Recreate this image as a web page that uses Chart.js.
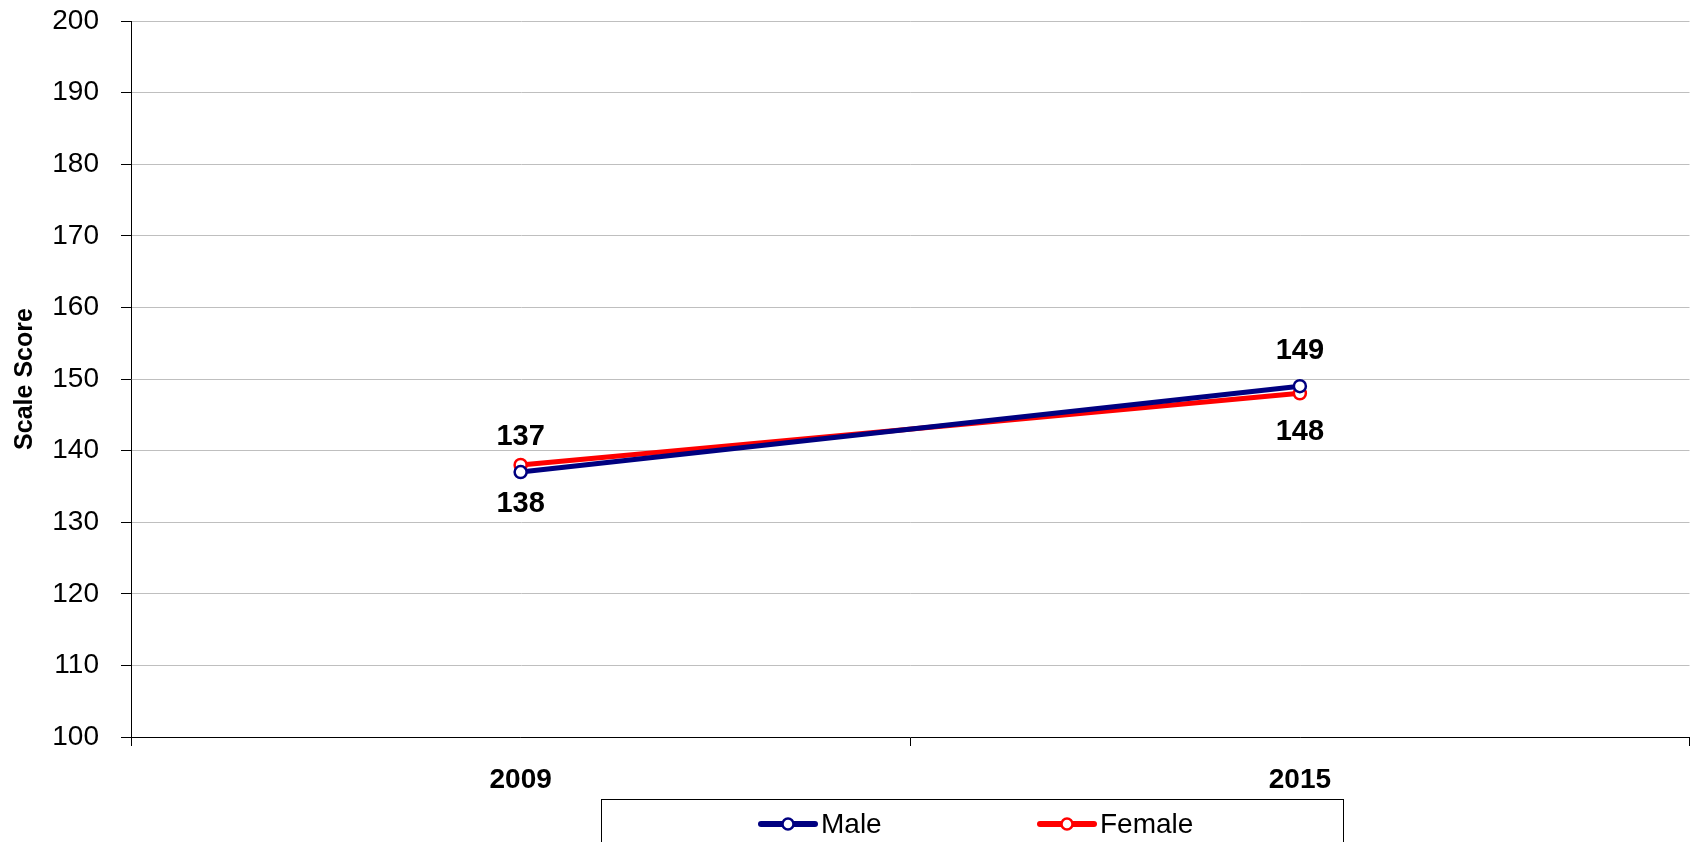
<!DOCTYPE html>
<html>
<head>
<meta charset="utf-8">
<script src="https://cdn.jsdelivr.net/npm/chart.js@4"></script>
<style>
  html, body { margin: 0; padding: 0; background: #fff; }
  #wrap { width: 1698px; height: 842px; }
</style>
</head>
<body>
<div id="wrap"><canvas id="scoreChart" width="1698" height="842"></canvas></div>
<script>
const years = ['2009', '2015'];
const maleScores = [137, 149];
const femaleScores = [138, 148];
const yTicks = [100, 110, 120, 130, 140, 150, 160, 170, 180, 190, 200];

const FONT = "'Liberation Sans', Arial, sans-serif";

// value labels: male above the point, female below
const valueLabels = {
    id: 'valueLabels',
    afterDatasetsDraw(chart) {
        const ctx = chart.ctx;
        ctx.save();
        ctx.font = 'bold 29px ' + FONT;
        ctx.fillStyle = '#000';
        ctx.textAlign = 'center';
        ctx.textBaseline = 'middle';
        chart.data.datasets.forEach((ds, i) => {
            const meta = chart.getDatasetMeta(i);
            meta.data.forEach((pt, j) => {
                const dy = i === 0 ? -35 : 39;
                ctx.fillText(String(ds.data[j]), pt.x, pt.y + dy);
            });
        });
        ctx.restore();
    }
};

// legend in a bordered box under the x axis
const legendBox = {
    id: 'legendBox',
    afterDraw(chart) {
        const ctx = chart.ctx;
        ctx.save();
        ctx.strokeStyle = '#000';
        ctx.lineWidth = 1;
        ctx.strokeRect(601.5, 799.5, 742, 60);
        const items = [
            { x: 761, ds: chart.data.datasets[0] },
            { x: 1040, ds: chart.data.datasets[1] }
        ];
        const y = 824;
        ctx.font = '28px ' + FONT;
        ctx.textBaseline = 'middle';
        ctx.textAlign = 'left';
        items.forEach(it => {
            ctx.strokeStyle = it.ds.borderColor;
            ctx.lineWidth = 6;
            ctx.lineCap = 'round';
            ctx.beginPath();
            ctx.moveTo(it.x, y);
            ctx.lineTo(it.x + 54, y);
            ctx.stroke();
            ctx.beginPath();
            ctx.arc(it.x + 27, y, 5.5, 0, Math.PI * 2);
            ctx.fillStyle = '#fff';
            ctx.fill();
            ctx.lineWidth = 2.5;
            ctx.stroke();
            ctx.fillStyle = '#000';
            ctx.fillText(it.ds.label, it.x + 60, y + 1);
        });
        ctx.restore();
    }
};

new Chart(document.getElementById('scoreChart'), {
    type: 'line',
    data: {
        labels: years,
        datasets: [{
            label: 'Male',
            data: maleScores,
            borderColor: '#000080',
            backgroundColor: '#fff',
            borderWidth: 5,
            pointRadius: 6,
            pointBorderWidth: 2.5,
            pointBackgroundColor: '#fff',
            tension: 0
        }, {
            label: 'Female',
            data: femaleScores,
            borderColor: '#FF0000',
            backgroundColor: '#fff',
            borderWidth: 5,
            pointRadius: 6,
            pointBorderWidth: 2.5,
            pointBackgroundColor: '#fff',
            tension: 0
        }]
    },
    options: {
        responsive: false,
        animation: false,
        layout: { padding: { top: 21, right: 2, left: 0, bottom: 0 } },
        plugins: {
            legend: { display: false },
            tooltip: { enabled: false }
        },
        scales: {
            x: {
                offset: true,
                grid: {
                    offset: true,
                    drawOnChartArea: false,
                    tickLength: 9,
                    color: '#000',
                    tickColor: '#000'
                },
                border: { color: '#000', width: 1 },
                ticks: {
                    padding: 17,
                    color: '#000',
                    font: { family: FONT, size: 28, weight: 'bold' }
                },
                afterFit(scale) {
                    scale.height = 105;
                    scale.paddingLeft = 0;
                    scale.paddingRight = 0;
                }
            },
            y: {
                min: 100,
                max: 200,
                afterBuildTicks(scale) { scale.ticks = yTicks.map(v => ({ value: v })); },
                grid: {
                    color: '#BFBFBF',
                    tickColor: '#000',
                    tickLength: 10,
                    lineWidth: 1
                },
                border: { color: '#000', width: 1 },
                ticks: {
                    padding: 22,
                    color: '#000',
                    font: { family: FONT, size: 28 }
                },
                title: {
                    display: true,
                    text: 'Scale Score',
                    color: '#000',
                    padding: { top: 10, bottom: 4 },
                    font: { family: FONT, size: 25, weight: 'bold' }
                },
                afterFit(scale) {
                    scale.width = 131;
                    scale.paddingTop = 0;
                    scale.paddingBottom = 0;
                }
            }
        }
    },
    plugins: [valueLabels, legendBox]
});
</script>
</body>
</html>
